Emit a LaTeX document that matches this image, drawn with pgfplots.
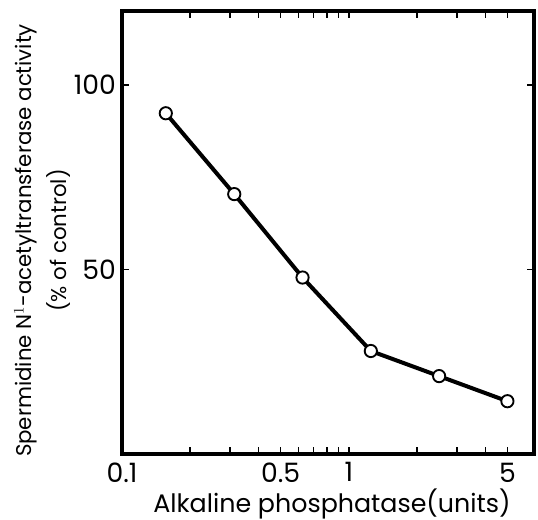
\documentclass[border=0pt]{standalone}
\usepackage{fontspec}
\setmainfont{Poppins}
\usepackage{pgfplots}
\pgfplotsset{compat=1.18}

\begin{document}
\begin{tikzpicture}
% page: 538x520 px at 0.75pt/px, axis box lower-left at origin
\useasboundingbox (-91.5pt,-49.5pt) rectangle (312pt,340.5pt);
\begin{axis}[
    scale only axis,
    width=309pt, height=332.25pt,
    xmode=log,
    xmin=0.1, xmax=6.55,
    ymin=0, ymax=120,
    axis line style={line width=2.6pt},
    xtick={0.1,0.5,1,5},
    xticklabels={0.1,0.5,1,5},
    minor xtick={0.2,0.3,0.4,0.6,0.7,0.8,0.9,2,3,4},
    ytick={50,100},
    yticklabels={50,100},
    tick align=inside,
    major tick length=5pt,
    minor tick length=5pt,
    tick style={line width=1.2pt, black},
    ticklabel style={font=\fontsize{20}{24}\selectfont},
    xticklabel style={yshift=-3pt},
    yticklabel style={xshift=-1pt},
    xlabel={Alkaline phosphatase(units)},
    xlabel style={font=\fontsize{19}{22}\selectfont, yshift=2pt, xshift=3pt},
    ylabel={\begin{tabular}{c}Spermidine N$^{1}$-acetyltransferase activity\\[4pt](\% of control)\end{tabular}},
    ylabel style={font=\fontsize{16}{22}\selectfont, yshift=-8pt, xshift=-6pt},
    clip=false,
]
\addplot[black, line width=3pt, mark=*,
    mark options={fill=white, draw=black, line width=1.4pt},
    mark size=4.6pt]
coordinates {
    (0.156,92.3)
    (0.3125,70.4)
    (0.625,47.8)
    (1.25,27.9)
    (2.5,21.1)
    (5,14.3)
};
\end{axis}
\end{tikzpicture}
\end{document}
